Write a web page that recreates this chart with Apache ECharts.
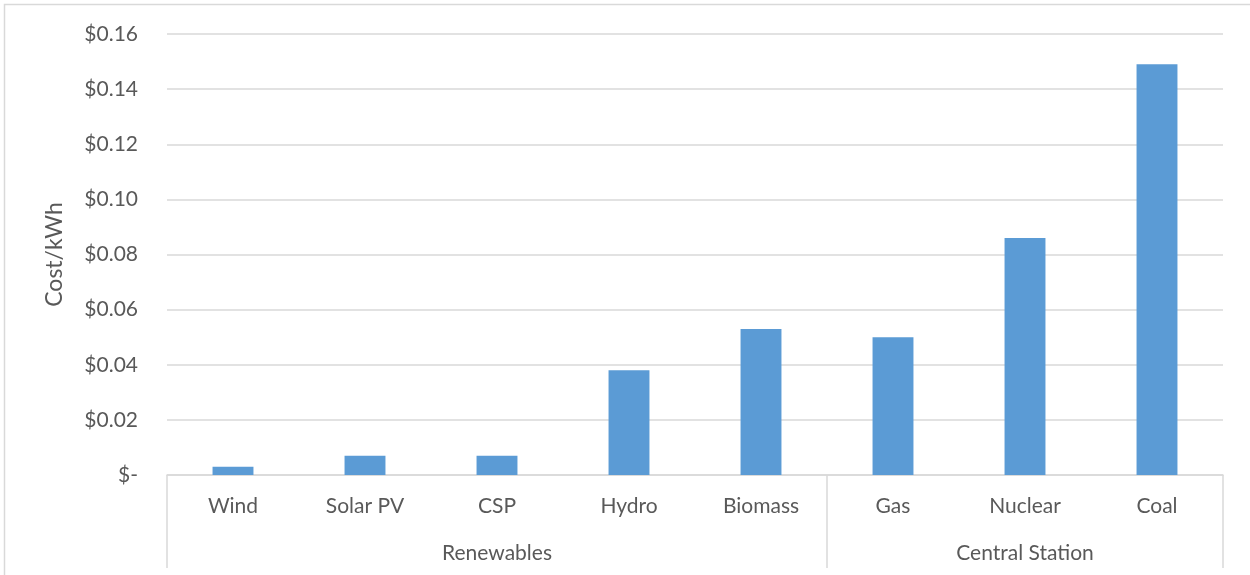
<!DOCTYPE html>
<html>
<head>
<meta charset="utf-8">
<script src="https://cdn.jsdelivr.net/npm/echarts@6/dist/echarts.min.js"></script>
<style>
  html, body { margin: 0; padding: 0; background: #ffffff; }
  #chart { width: 1250px; height: 575px; }
</style>
</head>
<body>
<div id="chart"></div>
<script>
// Levelized cost by generation technology, grouped by category
const technologies = ['Wind', 'Solar PV', 'CSP', 'Hydro', 'Biomass', 'Gas', 'Nuclear', 'Coal'];
const costPerKWh = [0.003, 0.007, 0.007, 0.038, 0.053, 0.050, 0.086, 0.149];
const groupNames = ['Renewables', 'Central Station'];
const groupSizes = [5, 3];
const yTicks = [0, 0.02, 0.04, 0.06, 0.08, 0.10, 0.12, 0.14, 0.16];

// Group boundaries and centres in category units (0 .. number of categories)
const groupEdges = [0];
groupSizes.forEach(n => groupEdges.push(groupEdges[groupEdges.length - 1] + n));
const groupCenters = groupSizes.map((n, i) => groupEdges[i] + n / 2);

const FONT = 'Lato, "Open Sans", sans-serif';
const TEXT = '#595959';
const LINE = '#d9d9d9';
const LABEL_SIZE = 21;

const chart = echarts.init(document.getElementById('chart'), null, { renderer: 'canvas' });

chart.setOption({
  animation: false,
  textStyle: { fontFamily: FONT },
  grid: { left: 167, right: 27, top: 34, bottom: 100, containLabel: false },
  graphic: [{
    type: 'rect',
    shape: { x: 4.5, y: 4.5, width: 1400, height: 800 },
    style: { fill: 'none', stroke: LINE, lineWidth: 1.5 },
    silent: true
  }],
  xAxis: [
    {
      type: 'category',
      data: technologies,
      position: 'bottom',
      axisLine: { show: true, lineStyle: { color: LINE, width: 1.5 } },
      axisTick: { show: false },
      axisLabel: { color: TEXT, fontSize: LABEL_SIZE, fontFamily: FONT, margin: 21, interval: 0 }
    },
    {
      type: 'value',
      min: groupEdges[0],
      max: groupEdges[groupEdges.length - 1],
      position: 'bottom',
      axisLine: { show: false },
      splitLine: { show: false },
      axisTick: {
        show: true,
        length: 93,
        customValues: groupEdges,
        lineStyle: { color: LINE, width: 1.5 }
      },
      axisLabel: {
        show: true,
        customValues: groupCenters,
        color: TEXT,
        fontSize: LABEL_SIZE,
        fontFamily: FONT,
        margin: 68,
        formatter: v => {
          const i = groupCenters.indexOf(v);
          return i >= 0 ? groupNames[i] : '';
        }
      }
    }
  ],
  yAxis: {
    type: 'value',
    min: yTicks[0],
    max: yTicks[yTicks.length - 1],
    interval: 0.02,
    name: 'Cost/kWh',
    nameLocation: 'middle',
    nameGap: 101,
    nameRotate: 90,
    nameTextStyle: { color: TEXT, fontSize: 23, fontFamily: FONT },
    axisLine: { show: false },
    axisTick: { show: false },
    splitLine: { lineStyle: { color: LINE, width: 1.5 } },
    axisLabel: {
      color: TEXT,
      fontSize: LABEL_SIZE,
      fontFamily: FONT,
      margin: 29,
      formatter: v => v === 0 ? '$-' : '$' + v.toFixed(2)
    }
  },
  series: [{
    type: 'bar',
    xAxisIndex: 0,
    data: costPerKWh,
    barWidth: '31%',
    itemStyle: { color: '#5b9bd5' }
  }]
});
</script>
</body>
</html>
